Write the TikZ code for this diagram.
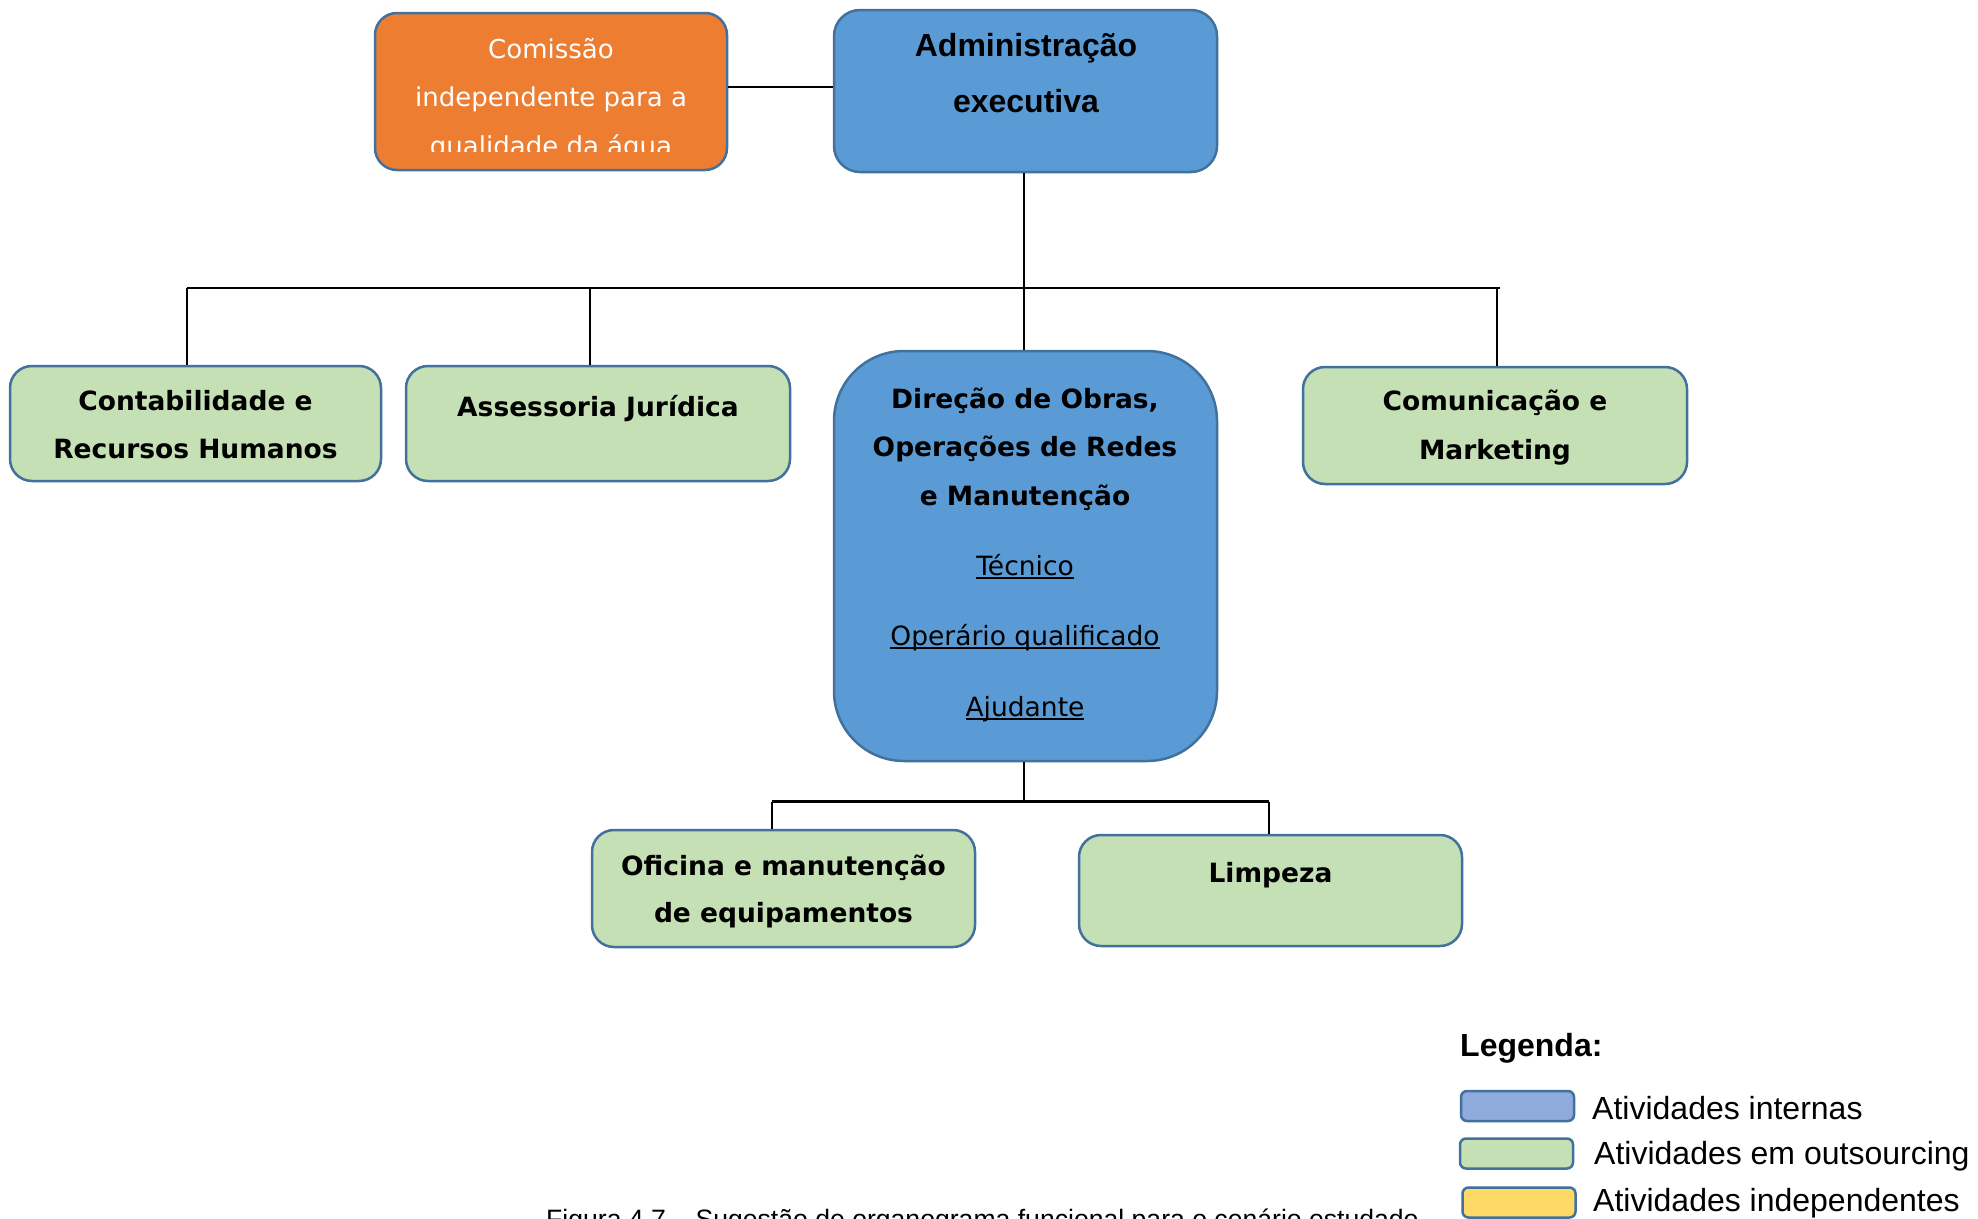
\documentclass[tikz,border=0pt]{standalone}
\usepackage{fontspec}
\setmainfont{DejaVu Sans}
\newfontfamily\arialfont{Liberation Sans}

\definecolor{boxedge}{HTML}{41719C}
\definecolor{internal}{HTML}{5B9BD5}
\definecolor{outsrc}{HTML}{C5E0B4}
\definecolor{indep}{HTML}{ED7D31}
\definecolor{keyblue}{HTML}{8FAADC}
\definecolor{keyyellow}{HTML}{FFD966}

% underline drawn at a fixed depth, through descenders
\newcommand\lineunder[1]{\setbox0\hbox{#1}\rlap{\rule[-3.6pt]{\wd0}{2pt}}\box0}

\begin{document}
\begin{tikzpicture}[x=1pt,y=-1pt,
  unit/.style={draw=boxedge, line width=2.5pt, rounded corners=22pt, inner sep=0pt},
  greenunit/.style={unit, fill=outsrc},
  blueunit/.style={unit, fill=internal},
  lbl/.style={anchor=base, inner sep=0pt, font=\fontsize{26.5}{26.5}\selectfont\bfseries},
  sublbl/.style={anchor=base, inner sep=0pt, font=\fontsize{26.5}{26.5}\selectfont},
  toplbl/.style={anchor=base, inner sep=0pt, font=\arialfont\fontsize{32}{32}\selectfont\bfseries},
  keytxt/.style={anchor=base west, inner sep=0pt, font=\arialfont\fontsize{32}{32}\selectfont},
  keybox/.style={draw=boxedge, line width=2.5pt, rounded corners=6pt, inner sep=0pt,
                 minimum width=113pt, minimum height=30pt},
  lead/.style={draw=black, line width=1.4pt},
  bus/.style={draw=black, line width=2.4pt}]

\clip (0,0) rectangle (1978,1218);
\fill[white] (0,0) rectangle (1978,1218);

% ---------- units ----------
\node[unit, fill=indep, minimum width=352pt, minimum height=157pt] (comissao) at (551,91.5) {};
\node[blueunit, rounded corners=26pt, minimum width=383pt, minimum height=162pt] (admin) at (1025.5,91) {};
\node[greenunit, minimum width=371pt, minimum height=115pt] (contab) at (195.5,423.5) {};
\node[greenunit, minimum width=384pt, minimum height=115pt] (juridica) at (598,423.5) {};
\node[blueunit, rounded corners=70pt, minimum width=383pt, minimum height=410pt] (direcao) at (1025.5,556) {};
\node[greenunit, minimum width=384pt, minimum height=117pt] (comunic) at (1495,425.5) {};
\node[greenunit, minimum width=383pt, minimum height=117pt] (oficina) at (783.5,888.5) {};
\node[greenunit, minimum width=383pt, minimum height=111pt] (limpeza) at (1270.5,890.5) {};

% ---------- connectors ----------
\draw[lead] (comissao.east |- 0,87) -- (admin.west |- 0,87);

\coordinate (busL) at (187,288);
\coordinate (busR) at (1500,288);
\coordinate (dropA) at (187,288);
\coordinate (dropB) at (590,288);
\coordinate (dropC) at (1024,288);
\coordinate (dropD) at (1497,288);
\draw[lead] (admin.south -| dropC) -- (dropC);
\draw[bus] (busL) -- (busR);
\draw[lead] (dropA) -- (dropA |- contab.north);
\draw[lead] (dropB) -- (dropB |- juridica.north);
\draw[lead] (dropC) -- (dropC |- direcao.north);
\draw[lead] (dropD) -- (dropD |- comunic.north);

\coordinate (lowC) at (1024,801.5);
\coordinate (lowL) at (772,801.5);
\coordinate (lowR) at (1269,801.5);
\draw[lead] (direcao.south -| lowC) -- (lowC);
\draw[bus] (lowL) -- (lowR);
\draw[lead] (lowL) -- (lowL |- oficina.north);
\draw[lead] (lowR) -- (lowR |- limpeza.north);

% ---------- texts ----------
\begin{scope}
  \clip (375,14) rectangle (727,151.7);
  \node[sublbl, text=white, font=\fontsize{26}{26}\selectfont] (com1) at (551,58.3) {Comissão};
  \node[sublbl, text=white, font=\fontsize{26}{26}\selectfont] (com2) at (551,106.7) {independente para a};
  \node[sublbl, text=white, font=\fontsize{26}{26}\selectfont] (com3) at (551,155) {qualidade da água};
\end{scope}

\node[toplbl] (adm1) at (1026,56.7) {Administração};
\node[toplbl] (adm2) at (1026,112.7) {executiva};

\node[lbl] (con1) at (195.5,410.7) {Contabilidade e};
\node[lbl] (con2) at (195.5,458.3) {Recursos Humanos};

\node[lbl] (jur1) at (598,416) {Assessoria Jurídica};

\node[lbl] (dir1) at (1025,408.3) {Direção de Obras,};
\node[lbl] (dir2) at (1025,456.7) {Operações de Redes};
\node[lbl] (dir3) at (1025,505) {e Manutenção};
\node[sublbl] (dir4) at (1025,575.7) {\lineunder{Técnico}};
\node[sublbl] (dir5) at (1025,645) {\lineunder{Operário qualificado}};
\node[sublbl] (dir6) at (1025,716) {\lineunder{Ajudante}};

\node[lbl] (cmk1) at (1495,410.7) {Comunicação e};
\node[lbl] (cmk2) at (1495,459) {Marketing};

\node[lbl] (ofi1) at (783.5,875) {Oficina e manutenção};
\node[lbl] (ofi2) at (783.5,922) {de equipamentos};

\node[lbl] (lim1) at (1270.5,882) {Limpeza};

% ---------- legend ----------
\node[keytxt, font=\arialfont\fontsize{32}{32}\selectfont\bfseries] (legtitle) at (1460,1056.7) {Legenda:};
\node[keybox, fill=keyblue] (key1) at (1517.5,1106) {};
\node[keybox, fill=outsrc] (key2) at (1516.5,1153.5) {};
\node[keybox, fill=keyyellow] (key3) at (1519,1202.5) {};
\node[keytxt] (keyt1) at (1592,1119) {Atividades internas};
\node[keytxt] (keyt2) at (1594,1164) {Atividades em outsourcing};
\node[keytxt] (keyt3) at (1593,1211) {Atividades independentes};

% ---------- caption ----------
\node[anchor=base west, inner sep=0pt, font=\arialfont\fontsize{26.6}{26.6}\selectfont] (caption) at (546,1228)
  {Figura 4.7 – Sugestão de organograma funcional para o cenário estudado};
\end{tikzpicture}
\end{document}
